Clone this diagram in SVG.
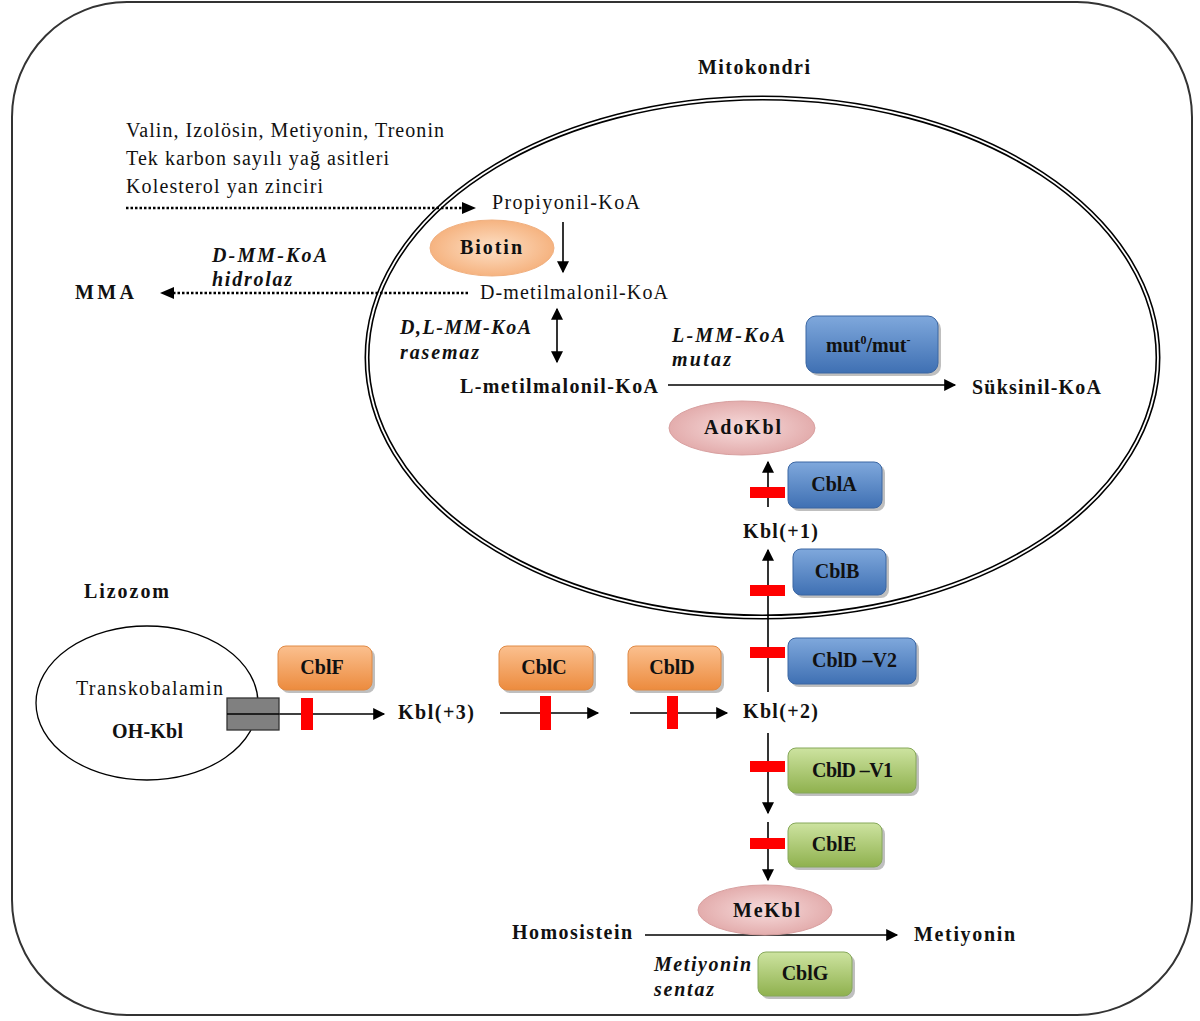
<svg xmlns="http://www.w3.org/2000/svg" width="1200" height="1021" viewBox="0 0 1200 1021">
<defs>
<linearGradient id="gBlue" x1="0" y1="0" x2="0" y2="1"><stop offset="0" stop-color="#7fa8dc"/><stop offset="1" stop-color="#3f70b3"/></linearGradient>
<linearGradient id="gOrange" x1="0" y1="0" x2="0" y2="1"><stop offset="0" stop-color="#fbc08f"/><stop offset="1" stop-color="#ec8b3e"/></linearGradient>
<linearGradient id="gGreen" x1="0" y1="0" x2="0" y2="1"><stop offset="0" stop-color="#cde3a0"/><stop offset="1" stop-color="#8fb14e"/></linearGradient>
<radialGradient id="gPink" cx="0.5" cy="0.5" r="0.6"><stop offset="0" stop-color="#f7dcdc"/><stop offset="1" stop-color="#dfa3a3"/></radialGradient>
<radialGradient id="gPeach" cx="0.5" cy="0.5" r="0.6"><stop offset="0" stop-color="#fde0c6"/><stop offset="1" stop-color="#f4aa72"/></radialGradient>
<marker id="ahs" viewBox="0 0 10 10" refX="9" refY="5" markerWidth="14" markerHeight="12" markerUnits="userSpaceOnUse" orient="auto-start-reverse"><path d="M0,0 L10,5 L0,10 z" fill="#000"/></marker>
</defs>
<style>
text{font-family:"Liberation Serif","Times New Roman",serif;fill:#111;}
.n{font-size:20px;}
.b{font-size:20px;font-weight:bold;}
.bi{font-size:20px;font-weight:bold;font-style:italic;}
.bx{font-size:20px;font-weight:bold;text-anchor:middle;}
.ln{stroke:#000;stroke-width:1.6;fill:none;}
.dot{stroke:#000;stroke-width:2.5;fill:none;stroke-dasharray:2.5 2;}
.red{fill:#ff0000;}
.sh{fill:#000;opacity:0.25;}
.blue{fill:url(#gBlue);stroke:#3a66a3;stroke-width:1;}
.org{fill:url(#gOrange);stroke:#e08a45;stroke-width:1;}
.grn{fill:url(#gGreen);stroke:#86a85a;stroke-width:1;}
</style>
<rect x="12" y="2" width="1180" height="1013" rx="115" ry="115" fill="#fff" stroke="#333" stroke-width="2"/>
<g id="mitokondri">
<ellipse cx="762.5" cy="357.5" rx="395.5" ry="259.5" fill="none" stroke="#000" stroke-width="5"/>
<ellipse cx="762.5" cy="357.5" rx="395.5" ry="259.5" fill="none" stroke="#fff" stroke-width="1.8"/>
<text class="b" x="698" y="74" textLength="112" lengthAdjust="spacing">Mitokondri</text>
</g>
<g id="lizozom">
<text class="b" x="84" y="598" textLength="85" lengthAdjust="spacing">Lizozom</text>
<ellipse cx="147" cy="703" rx="111" ry="77" fill="#fff" stroke="#000" stroke-width="1.3"/>
<text class="n" x="76" y="695" textLength="147" lengthAdjust="spacing">Transkobalamin</text>
<text class="b" x="112" y="738" textLength="71" lengthAdjust="spacing">OH-Kbl</text>
</g>
<g id="sources">
<text class="n" x="126" y="137" textLength="318" lengthAdjust="spacing">Valin, Izolösin, Metiyonin, Treonin</text>
<text class="n" x="126" y="165" textLength="263" lengthAdjust="spacing">Tek karbon sayılı yağ asitleri</text>
<text class="n" x="126" y="193" textLength="197" lengthAdjust="spacing">Kolesterol yan zinciri</text>
</g>
<g id="connectors">
<line class="dot" x1="126" y1="208" x2="462" y2="208"/>
<path d="M462,202 L476,208 L462,214 z" fill="#000"/>
<line class="dot" x1="468" y1="293" x2="174" y2="293"/>
<path d="M174,287 L160,293 L174,299 z" fill="#000"/>
<line class="ln" x1="563" y1="222" x2="563" y2="272" marker-end="url(#ahs)"/>
<line class="ln" x1="557" y1="309" x2="557" y2="362" marker-start="url(#ahs)" marker-end="url(#ahs)"/>
<line class="ln" x1="668" y1="385" x2="955" y2="385" marker-end="url(#ahs)"/>
<line class="ln" x1="768" y1="507" x2="768" y2="462" marker-end="url(#ahs)"/>
<line class="ln" x1="768" y1="692" x2="768" y2="550" marker-end="url(#ahs)"/>
<line class="ln" x1="768" y1="733" x2="768" y2="813" marker-end="url(#ahs)"/>
<line class="ln" x1="768" y1="822" x2="768" y2="880" marker-end="url(#ahs)"/>
<line class="ln" x1="645" y1="935" x2="897" y2="935" marker-end="url(#ahs)"/>
<line class="ln" x1="227" y1="714" x2="384" y2="714" marker-end="url(#ahs)"/>
<line class="ln" x1="500" y1="713" x2="598" y2="713" marker-end="url(#ahs)"/>
<line class="ln" x1="630" y1="713" x2="727" y2="713" marker-end="url(#ahs)"/>
<rect x="227" y="698" width="52" height="32" fill="#808080" stroke="#333" stroke-width="1.3"/>
<line x1="227" y1="714" x2="279" y2="714" stroke="#000" stroke-width="1.3"/>
<rect class="red" x="301" y="698" width="12" height="32"/>
<rect class="red" x="540" y="696" width="11" height="34"/>
<rect class="red" x="667" y="696" width="11" height="33"/>
<rect class="red" x="750" y="487" width="35" height="11"/>
<rect class="red" x="750" y="585" width="35" height="11"/>
<rect class="red" x="750" y="647" width="35" height="11"/>
<rect class="red" x="750" y="761" width="35" height="11"/>
<rect class="red" x="750" y="838" width="35" height="11"/>
</g>
<g id="propiyonil"><text class="n" x="492" y="209" textLength="148" lengthAdjust="spacing">Propiyonil-KoA</text></g>
<g id="biotin">
<ellipse cx="492" cy="248" rx="62" ry="28" fill="url(#gPeach)" stroke="#f0b080" stroke-width="1"/>
<text class="b" x="460" y="254" textLength="62" lengthAdjust="spacing">Biotin</text>
</g>
<g id="dmm"><text class="n" x="480" y="299" textLength="188" lengthAdjust="spacing">D-metilmalonil-KoA</text></g>
<g id="hidrolaz">
<text class="bi" x="212" y="262" textLength="115" lengthAdjust="spacing">D-MM-KoA</text>
<text class="bi" x="212" y="286" textLength="80" lengthAdjust="spacing">hidrolaz</text>
</g>
<g id="mma"><text class="b" x="75" y="299" textLength="59" lengthAdjust="spacing">MMA</text></g>
<g id="rasemaz">
<text class="bi" x="400" y="334" textLength="131" lengthAdjust="spacing">D,L-MM-KoA</text>
<text class="bi" x="400" y="359" textLength="79" lengthAdjust="spacing">rasemaz</text>
</g>
<g id="lmm"><text class="b" x="460" y="393" textLength="198" lengthAdjust="spacing">L-metilmalonil-KoA</text></g>
<g id="mutaz">
<text class="bi" x="672" y="342" textLength="113" lengthAdjust="spacing">L-MM-KoA</text>
<text class="bi" x="672" y="366" textLength="59" lengthAdjust="spacing">mutaz</text>
</g>
<g id="mut">
<rect class="sh" x="809" y="319" width="132" height="57" rx="10"/>
<rect class="blue" x="806" y="316" width="132" height="57" rx="10"/>
<text class="b" x="826" y="352">mut<tspan font-size="12" dy="-8">0</tspan><tspan dy="8">/mut</tspan><tspan font-size="12" dy="-8">-</tspan></text>
</g>
<g id="suksinil"><text class="b" x="972" y="394" textLength="129" lengthAdjust="spacing">Süksinil-KoA</text></g>
<g id="adokbl">
<ellipse cx="742" cy="428" rx="73" ry="27" fill="url(#gPink)" stroke="#d8a0a0" stroke-width="1"/>
<text class="b" x="704" y="434" textLength="77" lengthAdjust="spacing">AdoKbl</text>
</g>
<g id="cbla">
<rect class="sh" x="791" y="465" width="94" height="46" rx="8"/>
<rect class="blue" x="788" y="462" width="94" height="46" rx="8"/>
<text class="bx" x="834" y="491">CblA</text>
</g>
<g id="kbl1"><text class="b" x="743" y="538" textLength="75" lengthAdjust="spacing">Kbl(+1)</text></g>
<g id="cblb">
<rect class="sh" x="796" y="552" width="93" height="46" rx="8"/>
<rect class="blue" x="793" y="549" width="93" height="46" rx="8"/>
<text class="bx" x="837" y="578">CblB</text>
</g>
<g id="cbldv2">
<rect class="sh" x="791" y="641" width="128" height="46" rx="8"/>
<rect class="blue" x="788" y="638" width="128" height="46" rx="8"/>
<text class="b" x="812" y="667" textLength="85" lengthAdjust="spacing">CblD –V2</text>
</g>
<g id="kbl2"><text class="b" x="743" y="718" textLength="75" lengthAdjust="spacing">Kbl(+2)</text></g>
<g id="cbldv1">
<rect class="sh" x="791" y="751" width="128" height="45" rx="8"/>
<rect class="grn" x="788" y="748" width="128" height="45" rx="8"/>
<text class="b" x="812" y="777" textLength="81" lengthAdjust="spacing">CblD –V1</text>
</g>
<g id="cble">
<rect class="sh" x="791" y="826" width="94" height="44" rx="8"/>
<rect class="grn" x="788" y="823" width="94" height="44" rx="8"/>
<text class="bx" x="834" y="851">CblE</text>
</g>
<g id="mekbl">
<ellipse cx="765" cy="910" rx="67" ry="25" fill="url(#gPink)" stroke="#d8a0a0" stroke-width="1"/>
<text class="b" x="733" y="917" textLength="67" lengthAdjust="spacing">MeKbl</text>
</g>
<g id="homosistein"><text class="b" x="512" y="939" textLength="120" lengthAdjust="spacing">Homosistein</text></g>
<g id="metiyonin"><text class="b" x="914" y="941" textLength="101" lengthAdjust="spacing">Metiyonin</text></g>
<g id="sentaz">
<text class="bi" x="654" y="971" textLength="97" lengthAdjust="spacing">Metiyonin</text>
<text class="bi" x="654" y="996" textLength="60" lengthAdjust="spacing">sentaz</text>
</g>
<g id="cblg">
<rect class="sh" x="761" y="955" width="94" height="44" rx="8"/>
<rect class="grn" x="758" y="952" width="94" height="44" rx="8"/>
<text class="bx" x="805" y="980">CblG</text>
</g>
<g id="cblf">
<rect class="sh" x="281" y="649" width="94" height="44" rx="8"/>
<rect class="org" x="278" y="646" width="94" height="44" rx="8"/>
<text class="bx" x="322" y="674">CblF</text>
</g>
<g id="kbl3"><text class="b" x="398" y="719" textLength="76" lengthAdjust="spacing">Kbl(+3)</text></g>
<g id="cblc">
<rect class="sh" x="502" y="649" width="94" height="44" rx="8"/>
<rect class="org" x="499" y="646" width="94" height="44" rx="8"/>
<text class="bx" x="544" y="674">CblC</text>
</g>
<g id="cbld">
<rect class="sh" x="631" y="649" width="93" height="44" rx="8"/>
<rect class="org" x="628" y="646" width="93" height="44" rx="8"/>
<text class="bx" x="672" y="674">CblD</text>
</g>
</svg>
